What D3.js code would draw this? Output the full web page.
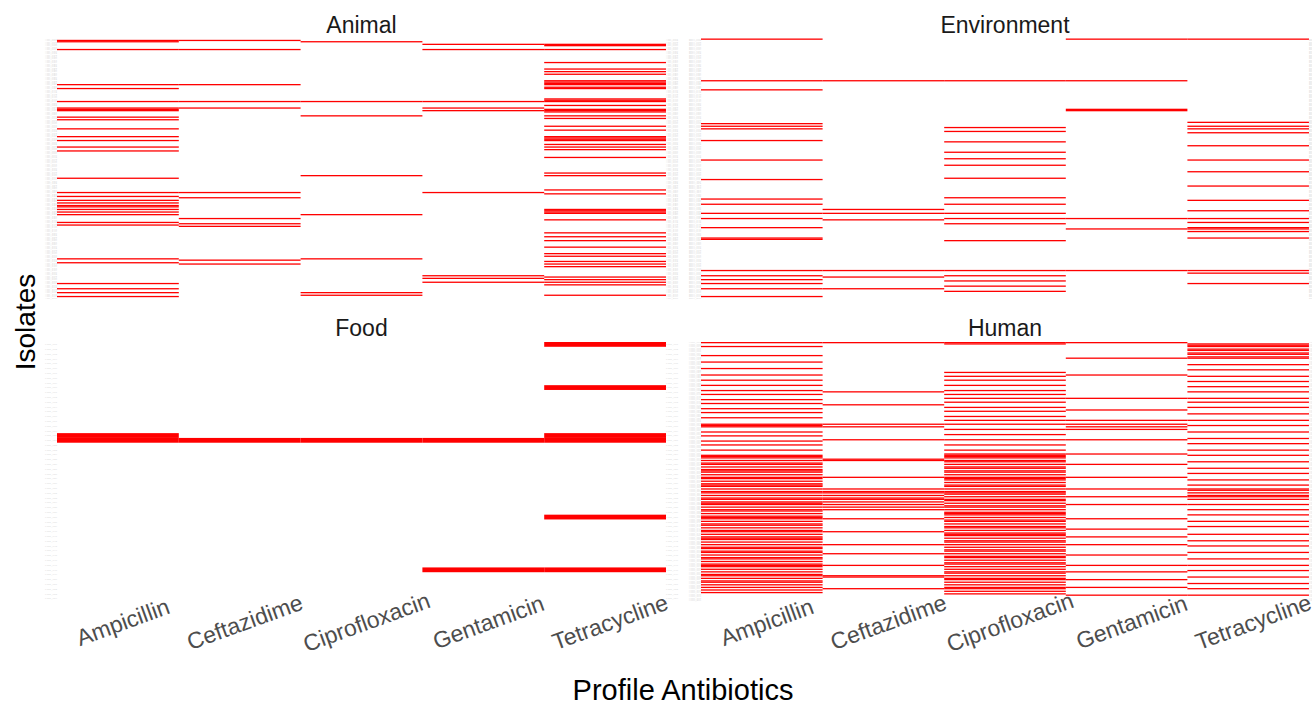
<!DOCTYPE html>
<html>
<head>
  <meta charset="utf-8">
  <title>Resistance profiles by source</title>
  <script src="https://d3js.org/d3.v7.min.js"></script>
  <style>
  body { margin: 0; background: #fff; }
  text { font-family: "Liberation Sans", Arial, sans-serif; }
  </style>
</head>
<body>
<div id="container"></div>
<script>

const antibiotics = ['Ampicillin', 'Ceftazidime', 'Ciprofloxacin', 'Gentamicin', 'Tetracycline']
const sources = ['Animal', 'Environment', 'Food', 'Human']
const isolateCounts = [200, 200, 54, 200]

// resistant isolates (row index, from top) for each antibiotic, in antibiotic order
const animalResistant = [
  [1,2,8,35,38,48,53,54,55,60,62,69,75,78,83,86,107,118,121,124,126,128,129,131,133,135,141,143,169,172,188,192,195,198],
  [1,8,35,48,53,118,122,138,142,144,170,173],
  [2,48,59,105,135,169,195,197],
  [4,8,48,53,55,118,182,184,187],
  [4,5,8,18,23,25,27,32,33,34,35,37,38,46,47,48,51,54,55,56,59,61,67,70,75,76,77,78,81,83,85,91,103,105,116,119,131,132,133,134,139,149,152,155,160,165,167,171,173,175,183,185,187,189,197]
]
const environmentResistant = [
  [0,32,39,65,67,69,78,93,108,123,127,134,138,145,153,154,178,182,185,188,192,198],
  [32,131,134,139,178,183,192],
  [32,68,71,79,87,92,97,107,122,127,134,138,142,155,178,182,186,190,194],
  [0,32,54,55,138,146,178],
  [0,64,67,69,72,82,93,102,113,124,132,138,141,145,146,148,153,178,180,188]
]
const foodResistant = [
  [19,20],
  [20],
  [20],
  [20,47],
  [0,9,19,20,36,47]
]
const humanResistant = [
  [0,3,10,15,20,25,29,33,37,40,44,47,51,54,58,63,64,65,69,72,76,79,83,87,88,89,91,93,94,96,98,99,100,102,104,105,107,109,110,111,113,115,116,118,120,121,123,124,125,127,129,130,132,134,135,136,138,140,141,143,145,146,148,150,151,152,154,156,158,159,161,162,164,166,167,169,171,172,173,175,177,179,180,182,184,185,187,189,191,193],
  [0,38,48,63,65,75,90,91,104,113,115,116,118,120,121,123,125,127,129,136,146,156,163,172,180,181,190],
  [0,1,23,26,29,33,37,40,43,46,50,53,57,60,63,67,71,75,79,83,86,87,88,89,91,92,94,96,97,99,100,102,104,105,106,108,110,111,113,115,116,117,119,121,122,124,126,127,129,131,132,133,135,137,138,140,142,143,145,147,148,149,151,153,154,156,158,160,161,163,165,166,168,170,171,173,175,177,178,180,182,183,185,187,189,190,192,194],
  [0,12,25,43,52,60,63,65,67,75,86,94,104,113,119,125,136,144,150,156,164,172,177,183,189,195],
  [1,2,3,5,6,8,9,11,12,17,21,26,30,34,38,43,46,50,55,60,64,69,74,78,83,87,92,97,101,106,110,113,114,116,118,119,121,125,129,133,138,142,148,153,157,162,167,172,176,181,186,190,195]
]
const resistant = [animalResistant, environmentResistant, foodResistant, humanResistant]

const width = 1312
const height = 702

// facet layout
const panelCols = [[57, 666], [701, 1309]]
const panelRows = [[38.5, 298.5], [342, 601]]

var svg = d3.select('#container')
  .append('svg')
  .attr('width', width)
  .attr('height', height)

sources.forEach(function(src, i) {
  var col = i % 2
  var row = Math.floor(i / 2)
  var x0 = panelCols[col][0], x1 = panelCols[col][1]
  var y0 = panelRows[row][0], y1 = panelRows[row][1]

  var prefix = src.slice(0, 3).toUpperCase()
  var ids = d3.range(isolateCounts[i]).map(k => prefix + '_' + String(k + 1).padStart(3, '0'))

  var xScale = d3.scaleBand().domain(antibiotics).range([x0, x1])
  var yScale = d3.scaleBand().domain(ids).range([y0, y1])

  var cells = []
  resistant[i].forEach(function(rows, a) {
    rows.forEach(r => cells.push({ab: antibiotics[a], id: ids[r]}))
  })

  var g = svg.append('g').attr('class', 'facet')

  g.selectAll('.tile')
    .data(cells)
    .enter()
    .append('rect')
    .attr('class', 'tile')
    .attr('x', d => xScale(d.ab))
    .attr('y', d => yScale(d.id))
    .attr('width', xScale.bandwidth())
    .attr('height', yScale.bandwidth())
    .style('fill', '#ff0000')

  // tiny isolate labels, both sides
  var yLeft = g.append('g')
    .attr('transform', 'translate(' + x0 + ',0)')
    .call(d3.axisLeft(yScale).tickSize(0).tickPadding(0))
  var yRight = g.append('g')
    .attr('transform', 'translate(' + x1 + ',0)')
    .call(d3.axisRight(yScale).tickSize(0).tickPadding(0))
  ;[yLeft, yRight].forEach(function(ax) {
    ax.select('.domain').remove()
    ax.selectAll('text')
      .attr('font-size', 2.4)
      .attr('font-family', null)
      .attr('fill', '#dcdcdc')
      .attr('textLength', 12)
      .attr('lengthAdjust', 'spacingAndGlyphs')
  })

  // strip title
  g.append('text')
    .attr('x', (x0 + x1) / 2)
    .attr('y', y0 - 14)
    .attr('text-anchor', 'middle')
    .attr('dominant-baseline', 'central')
    .style('font-size', '23px')
    .style('fill', '#1a1a1a')
    .text(src)

  // x labels only under bottom row
  if (row === 1) {
    var xAxis = g.append('g')
      .attr('transform', 'translate(0,' + y1 + ')')
      .call(d3.axisBottom(xScale).tickSize(0))
    xAxis.select('.domain').remove()
    xAxis.selectAll('text')
      .attr('y', 0)
      .attr('dy', null)
      .attr('font-size', null)
      .attr('font-family', null)
      .attr('text-anchor', 'middle')
      .attr('dominant-baseline', 'central')
      .attr('transform', 'translate(5,21) rotate(-20)')
      .style('font-size', '23px')
      .style('fill', '#4d4d4d')
  }
})

svg.append('text')
  .attr('x', 683)
  .attr('y', 690)
  .attr('text-anchor', 'middle')
  .attr('dominant-baseline', 'central')
  .style('font-size', '29px')
  .style('fill', '#000')
  .text('Profile Antibiotics')

svg.append('text')
  .attr('transform', 'translate(25,322) rotate(-90)')
  .attr('text-anchor', 'middle')
  .attr('dominant-baseline', 'central')
  .style('font-size', '28px')
  .style('fill', '#000')
  .text('Isolates')

</script>
</body>
</html>
